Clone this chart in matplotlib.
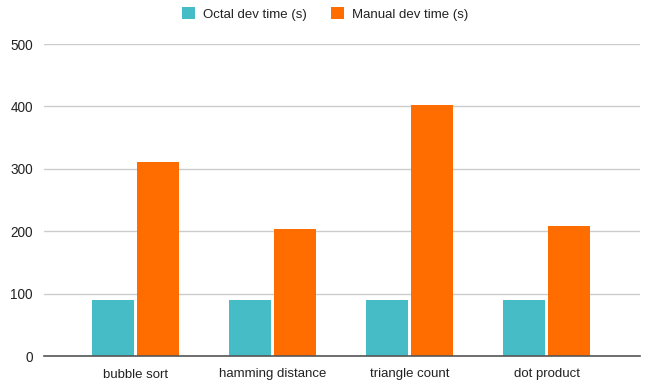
import matplotlib
matplotlib.use("Agg")
import matplotlib.pyplot as plt
import numpy as np

categories = ["bubble sort", "hamming distance", "triangle count", "dot product"]
octal = [90, 90, 90, 90]
manual = [311, 204, 402, 209]
series_names = ["Octal dev time (s)", "Manual dev time (s)"]
yticks = [0, 100, 200, 300, 400, 500]

plt.rcParams['font.family'] = ['Liberation Sans', 'DejaVu Sans']

fig = plt.figure(figsize=(6.49, 3.81), dpi=100)
ax = fig.add_axes([44/649, 1-356/381, (640-44)/649, (356-44)/381])

x = np.arange(len(categories))
w = 0.307
off = 0.164
b1 = ax.bar(x - off, octal, w, color="#46BDC6", label=series_names[0], zorder=3)
b2 = ax.bar(x + off, manual, w, color="#FF6D01", label=series_names[1], zorder=3)

ax.set_xlim(-0.67, 3.68)
ax.set_ylim(0, 500)
ax.set_yticks(yticks)
ax.set_xticks(x)
ax.set_xticklabels(categories, fontsize=9.5, color="#222222")
ax.tick_params(axis='y', labelsize=9.8, length=0, pad=8)
ax.tick_params(axis='x', length=0, pad=9)
for t in ax.get_yticklabels():
    t.set_color("#222222")
ax.grid(axis='y', color="#cccccc", linewidth=1, zorder=0)
for s in ["top", "right", "left"]:
    ax.spines[s].set_visible(False)
ax.spines["bottom"].set_color("#555555")
ax.spines["bottom"].set_linewidth(1.2)
ax.spines["bottom"].set_zorder(4)

fig.legend(handles=[b1, b2], labels=series_names, loc="center", bbox_to_anchor=(325/649, 1-14/381),
           ncol=2, frameon=False, fontsize=9.5, handlelength=1.0, handleheight=1.0,
           columnspacing=1.8, handletextpad=0.6, labelcolor="#222222")

fig.savefig("out.png", dpi=100)
